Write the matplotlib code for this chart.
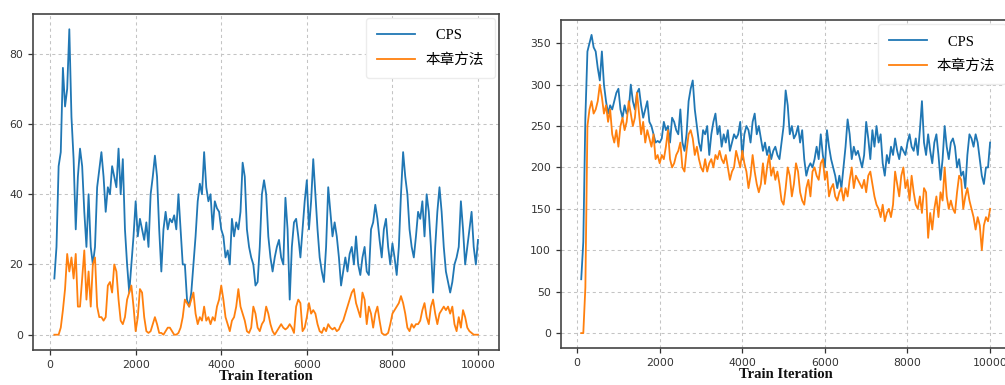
import numpy as np
import matplotlib

matplotlib.use("Agg")
import matplotlib.pyplot as plt

# iteration axis: 100 .. 10000 every 50
ITERS = np.arange(100, 10001, 50)

LEFT_CPS = [
    16, 25, 48, 52, 76, 65, 70, 87, 62, 50,
    30, 45, 53, 48, 35, 25, 40, 25, 20, 25,
    42, 47, 52, 45, 35, 42, 40, 48, 45, 42,
    53, 40, 50, 30, 20, 12, 20, 28, 38, 28,
    33, 30, 27, 32, 25, 40, 45, 51, 45, 30,
    18, 30, 35, 30, 33, 32, 34, 30, 40, 30,
    20, 20, 10, 8, 12, 20, 28, 38, 43, 40,
    52, 42, 38, 40, 30, 38, 36, 35, 30, 28,
    22, 24, 20, 33, 28, 32, 30, 35, 49, 45,
    30, 25, 22, 20, 14, 15, 25, 40, 44, 40,
    28, 22, 18, 22, 25, 27, 22, 20, 39, 30,
    10, 25, 32, 33, 28, 22, 30, 38, 44, 30,
    38, 50, 40, 30, 22, 18, 15, 25, 42, 35,
    28, 32, 28, 22, 14, 18, 22, 18, 23, 25,
    20, 28, 20, 17, 22, 25, 18, 17, 30, 32,
    37, 33, 27, 22, 30, 33, 25, 20, 26, 22,
    17, 25, 40, 52, 45, 40, 30, 25, 22, 28,
    35, 33, 38, 28, 40, 35, 25, 12, 25, 35,
    42, 35, 25, 18, 15, 12, 15, 20, 22, 25,
    38, 30, 20, 25, 30, 35, 25, 20, 27,
]
LEFT_OURS = [
    0, 0, 0, 2, 7, 13, 23, 18, 22, 16,
    23, 8, 8, 16, 24, 10, 18, 8, 20, 22,
    8, 5, 5, 4, 5, 14, 15, 12, 20, 18,
    10, 4, 3, 5, 10, 12, 14, 8, 1, 5,
    13, 12, 5, 1, 0.5, 1, 3, 5, 3, 0.5,
    0.5, 0, 1, 2, 2, 1, 0, 0, 0.5, 2,
    5, 10, 9, 8, 10, 12, 6, 3, 5, 4,
    8, 4, 5, 3, 5, 4, 8, 10, 14, 10,
    5, 3, 1, 4, 5, 8, 13, 8, 6, 4,
    1, 0.5, 2, 8, 6, 2, 1, 3, 4, 8,
    6, 3, 1, 0, 1, 2, 3, 2, 1.5, 2,
    3, 2, 0.5, 8, 10, 9, 1, 2, 5, 9,
    6, 7, 6, 3, 1, 0.5, 2, 1, 3, 2,
    1.5, 2, 1, 1.5, 3, 4, 6, 8, 10, 12,
    13, 9, 7, 5, 12, 10, 3, 8, 6, 2,
    6, 8, 4, 0.5, 0, 0, 0.5, 3, 6, 7,
    8, 9, 11, 9, 6, 2, 1, 3, 2, 3,
    3, 4, 7, 9, 5, 3, 8, 10, 6, 3,
    6, 7, 8, 7, 8, 6, 8, 3, 1, 5,
    2, 7, 5, 2, 1, 0.5, 0, 0, 0,
]
RIGHT_CPS = [
    65, 110, 260, 340, 350, 360, 345, 340, 320, 305,
    340, 300, 280, 265, 275, 270, 280, 290, 295, 270,
    260, 275, 265, 270, 300, 280, 270, 290, 295, 275,
    260, 270, 280, 255, 250, 240, 230, 232, 230, 235,
    255, 245, 250, 230, 260, 255, 245, 240, 270, 230,
    220, 240, 280, 295, 305, 270, 250, 230, 220, 245,
    240, 250, 215, 240, 255, 265, 240, 250, 225, 240,
    230, 245, 220, 230, 240, 235, 240, 255, 210, 240,
    250, 245, 230, 255, 265, 240, 250, 235, 220, 230,
    215, 225, 210, 220, 225, 215, 210, 230, 250, 293,
    275, 240, 250, 235, 240, 250, 230, 245, 210, 190,
    200, 205, 200, 210, 225, 210, 240, 215, 200, 245,
    225, 210, 200, 190, 175, 190, 175, 200, 225, 258,
    240, 210, 225, 215, 220, 210, 200, 215, 255, 235,
    210, 245, 225, 250, 230, 240, 205, 190, 215, 205,
    225, 215, 235, 220, 210, 225, 220, 215, 230, 240,
    225, 220, 235, 215, 245, 280, 230, 215, 240, 220,
    205, 230, 240, 215, 185, 210, 250, 225, 210, 230,
    235, 225, 200, 210, 190, 195, 175, 215, 240, 235,
    225, 240, 230, 210, 190, 180, 200, 200, 230,
]
RIGHT_OURS = [
    0, 0, 55, 250, 270, 280, 265, 270, 280, 300,
    285, 265, 275, 255, 270, 240, 230, 245, 225, 250,
    260, 245, 255, 280, 265, 250, 260, 290, 265, 240,
    255, 230, 245, 235, 225, 240, 210, 215, 205, 215,
    210, 225, 245, 210, 200, 205, 215, 220, 230, 200,
    195, 220, 240, 245, 235, 215, 225, 210, 200, 195,
    210, 195, 205, 210, 200, 215, 210, 220, 210, 205,
    215, 200, 185, 195, 200, 220, 210, 200, 220, 205,
    195, 175, 190, 215, 195, 180, 170, 180, 205, 180,
    200, 215, 190, 200, 185, 195, 180, 160, 155, 175,
    200, 190, 165, 180, 205, 195, 170, 160, 155, 175,
    185, 165, 195, 200, 190, 185, 205, 210, 185, 195,
    165, 175, 180, 165, 160, 170, 175, 160, 175, 165,
    185, 200, 175, 190, 185, 180, 175, 185, 170, 190,
    195, 180, 165, 155, 150, 140, 155, 135, 145, 150,
    140, 155, 195, 180, 165, 190, 200, 175, 185, 160,
    190, 170, 155, 150, 165, 145, 175, 170, 115, 145,
    125, 150, 165, 140, 170, 160, 200, 165, 150, 160,
    150, 145, 170, 190, 185, 150, 165, 175, 160, 150,
    140, 125, 140, 130, 100, 130, 140, 135, 150,
]
LABELS = ["   CPS", "本章方法"]
BLUE, ORANGE = "#2077b4", "#ff800e"
LEG_FONT = ["Liberation Serif", "Noto Sans CJK SC"]


def style(ax, yticks):
    ax.set_yticks(yticks)
    ax.set_xticks([0, 2000, 4000, 6000, 8000, 10000])
    ax.grid(True, ls=(0, (3, 3)), color="#c4c4c4", lw=0.75)
    for s in ax.spines.values():
        s.set_color("#444444"); s.set_linewidth(1.2)
    ax.tick_params(labelsize=7.8, colors="#333333", length=3.5, width=0.9)
    ax.set_xlabel("Train Iteration", family="Liberation Serif", fontweight="bold",
                  fontsize=10.5, labelpad=0, color="#111111")
    ax.legend(loc="upper right", prop=dict(family=LEG_FONT, size=10.5), handlelength=2.6,
              labelspacing=0.75, borderpad=0.75, borderaxespad=0.3, framealpha=1,
              edgecolor="#ececec", handletextpad=0.7)


fig = plt.figure(figsize=(10.05, 3.85), dpi=100)
ax1 = fig.add_axes([0.033, 0.091, 0.4637, 0.8727])
ax1.plot(ITERS, LEFT_CPS, color=BLUE, lw=1.3, label=LABELS[0])
ax1.plot(ITERS, LEFT_OURS, color=ORANGE, lw=1.3, label=LABELS[1])
style(ax1, [0, 20, 40, 60, 80])

ax2 = fig.add_axes([0.558, 0.0961, 0.4475, 0.852])
ax2.plot(ITERS, RIGHT_CPS, color=BLUE, lw=1.3, label=LABELS[0])
ax2.plot(ITERS, RIGHT_OURS, color=ORANGE, lw=1.3, label=LABELS[1])
style(ax2, [0, 50, 100, 150, 200, 250, 300, 350])

fig.savefig("out.png", dpi=100)
